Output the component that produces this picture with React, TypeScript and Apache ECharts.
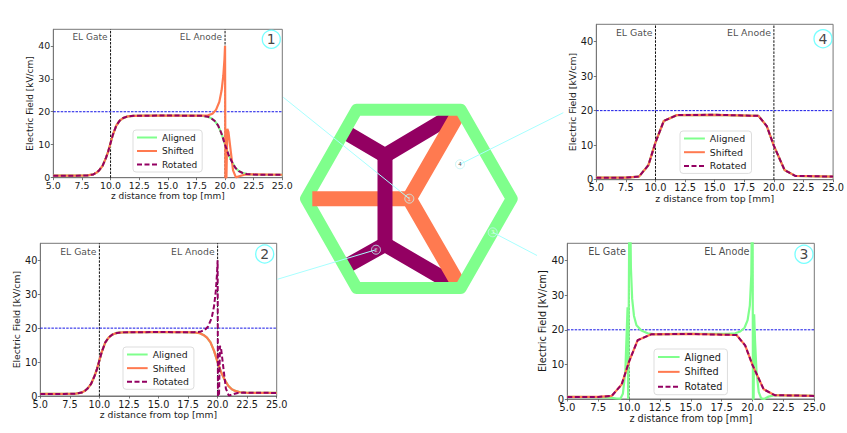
import React, { useEffect, useRef } from 'react';
import * as echarts from 'echarts';

const GREEN = '#7fff8c';
const ORANGE = '#ff7a50';
const PURPLE = '#930062';
const CYAN = '#a8ffff';
const BLUE = '#1414e6';
const FONT = '"DejaVu Sans"';
const TEXT = '#1a1a1a';

const seriesNames = ['Aligned', 'Shifted', 'Rotated'];
const xTicks = [5, 7.5, 10, 12.5, 15, 17.5, 20, 22.5, 25];
const yTicks = [0, 10, 20, 30, 40];

// reference lines shared by all panels
const gateLine = [[10, 0], [10, 45]];
const anodeLine = [[20, 0], [20, 45]];
const thresholdLine = [[5, 20], [25, 20]];

// smooth field profile (plots 1 and 2)
const smoothProfile = [
  [5, 0.6], [6, 0.6], [7, 0.6], [8, 0.7], [8.5, 1], [8.8, 1.6], [9, 2.2], [9.3, 3.6], [9.6, 6], [9.8, 8], [10, 10.5],
  [10.2, 13], [10.5, 15.8], [10.8, 17.3], [11.1, 18.1], [11.5, 18.6], [12, 18.75], [13, 18.8], [15, 18.85], [17, 18.8],
  [18, 18.75], [18.5, 18.5], [18.8, 18], [19.1, 17.2], [19.4, 15.8], [19.7, 13.3], [20, 10], [20.3, 7], [20.6, 4.8],
  [20.9, 3], [21.2, 2], [21.5, 1.5], [21.9, 1.1], [22.5, 0.95], [23, 0.9], [25, 0.9],
];

// coarse profile with visible mesh knots (plots 3 and 4)
const coarseProfile = [
  [5, 0.6], [7.5, 0.6], [8.6, 0.9], [9.4, 4.2], [10, 10.8], [10.7, 17], [11.8, 18.7], [15, 18.8], [18.7, 18.5],
  [19.4, 15.5], [20, 9.8], [20.9, 2.8], [21.8, 1.1], [25, 0.9],
];

// profile with a spike at the anode only (Shifted in plot 1, Rotated in plot 2)
const anodeSpikeProfile = [
  [5, 0.6], [6, 0.6], [7, 0.6], [8, 0.7], [8.5, 1], [8.8, 1.6], [9, 2.2], [9.3, 3.6], [9.6, 6], [9.8, 8], [10, 10.5],
  [10.2, 13], [10.5, 15.8], [10.8, 17.3], [11.1, 18.1], [11.5, 18.6], [12, 18.75], [13, 18.8], [15, 18.85], [17, 18.8],
  [18, 18.8], [18.5, 18.9], [18.9, 19.4], [19.2, 20.5], [19.5, 23], [19.7, 26.5], [19.85, 31], [19.95, 36], [20, 40],
  [20.03, 0], [20.12, 0], [20.2, 14.8], [20.3, 13.8], [20.5, 8], [20.7, 2.2], [20.95, 0.1], [21.3, 0.5], [21.7, 0.9],
  [22.2, 1], [25, 0.9],
];

// profile with spikes at both meshes (Aligned in plot 3)
const bothSpikesProfile = [
  [5, 0.6], [7.5, 0.55], [8.5, 0.4], [9, 0.15], [9.3, 0.1], [9.5, 1.5], [9.7, 8], [9.88, 26.5], [9.93, 0], [9.98, 0],
  [10.05, 70], [10.15, 38], [10.25, 29], [10.4, 24], [10.6, 21.3], [11, 19.8], [11.5, 19], [12, 18.75], [15, 18.8],
  [18, 18.8], [18.6, 19], [19, 19.5], [19.35, 20.6], [19.6, 22.8], [19.78, 27], [19.9, 36], [20, 70], [20.03, 0],
  [20.09, 0], [20.13, 24.5], [20.2, 17], [20.32, 8], [20.5, 2], [20.7, 0.2], [20.95, 0], [21.3, 0.7], [21.8, 1.1],
  [25, 0.9],
];

const plotCurves = [
  [smoothProfile, anodeSpikeProfile, smoothProfile],
  [smoothProfile, smoothProfile, anodeSpikeProfile],
  [bothSpikesProfile, coarseProfile, coarseProfile],
  [coarseProfile, coarseProfile, coarseProfile],
];

// page-pixel geometry of the hexagon diagram
const hexagon = [[306, 198.7], [356.7, 109.7], [460.7, 109.7], [511.7, 198.7], [460.7, 288], [356.7, 288], [306, 198.7]];
const purpleTop = [[345, 132], [385, 155.5], [458, 112]];
const purpleBottom = [[343, 268], [385, 244.5], [458, 287]];
const purpleStem = [[385, 150], [385, 250]];
const orangeArms = [[459.3, 112], [409.3, 198.7], [459.3, 285.4]];
const orangeBar = [[312.3, 198.7], [405, 198.7]];
const leaders = [
  [[283.3, 97.3], [409.3, 198.7]],
  [[277.3, 279.3], [376, 249.7]],
  [[492.7, 232.3], [537, 255.5]],
  [[460, 164.3], [563.3, 112.7]],
];
const smallMarks = [
  { value: [409.3, 198.7], name: '1', ink: '#e8e8e8' },
  { value: [376, 249.7], name: '2', ink: '#e8e8e8' },
  { value: [492.7, 232.3], name: '3', ink: '#f4fff4' },
  { value: [460, 164.3], name: '4', ink: '#333' },
];
const bigMarks = [
  { value: [271.3, 39.3], name: '1' },
  { value: [264.7, 254], name: '2' },
  { value: [804, 254.3], name: '3' },
  { value: [823, 38.7], name: '4' },
];

const grids = [
  { left: 53.3, top: 29.3, width: 229, height: 148.4 },
  { left: 40.3, top: 243.3, width: 236.4, height: 152.7 },
  { left: 567.3, top: 243.3, width: 247, height: 155.7 },
  { left: 596.3, top: 24.3, width: 239, height: 155.4 },
];
const legendBoxes = [
  { left: 133, top: 130 },
  { left: 123, top: 347 },
  { left: 654, top: 349 },
  { left: 680, top: 131 },
];

const diagramLine = (data: number[][], color: string, width: number, join = 'miter', cap = 'butt') => ({
  type: 'line',
  xAxisIndex: 4,
  yAxisIndex: 4,
  data,
  symbol: 'none',
  clip: false,
  silent: true,
  lineStyle: { color, width, join, cap },
});

// the four panels are the same figure pasted at slightly different sizes
const scaleOf = (i: number) => grids[i].width / 229;

const buildOption = () => {
  const series: any[] = [];

  plotCurves.forEach((curves, i) => {
    const styles = [
      { color: GREEN, width: 2.2, type: 'solid' },
      { color: ORANGE, width: 2.2, type: 'solid' },
      { color: PURPLE, width: 2, type: [5, 2.5] },
    ];
    [
      { data: gateLine, color: '#111' },
      { data: anodeLine, color: '#111' },
      { data: thresholdLine, color: BLUE },
    ].forEach((ref) => {
      series.push({
        type: 'line',
        xAxisIndex: i,
        yAxisIndex: i,
        data: ref.data,
        symbol: 'none',
        silent: true,
        z: 1,
        lineStyle: { color: ref.color, width: 1, type: [2.5, 1.2] },
      });
    });
    curves.forEach((curve, j) => {
      series.push({
        type: 'line',
        name: seriesNames[j],
        xAxisIndex: i,
        yAxisIndex: i,
        data: curve,
        symbol: 'none',
        lineStyle: styles[j],
        itemStyle: { color: styles[j].color },
      });
    });
    series.push({
      type: 'scatter',
      xAxisIndex: i,
      yAxisIndex: i,
      silent: true,
      symbolSize: 0,
      data: [
        { value: [10, 42.7], name: 'EL Gate' },
        { value: [20, 42.7], name: 'EL Anode' },
      ],
      label: {
        show: true,
        position: 'left',
        distance: 3,
        formatter: '{b}',
        color: TEXT,
        fontFamily: FONT,
        fontSize: 9 * scaleOf(i),
      },
    });
  });

  series.push(
    diagramLine(purpleTop, PURPLE, 15),
    diagramLine(purpleBottom, PURPLE, 15),
    diagramLine(orangeArms, ORANGE, 15),
    diagramLine(hexagon, GREEN, 12, 'round', 'round'),
    diagramLine(orangeBar, ORANGE, 15),
    diagramLine(purpleStem, PURPLE, 15),
  );
  leaders.forEach((l) => series.push(diagramLine(l, CYAN, 1)));

  series.push({
    type: 'scatter',
    xAxisIndex: 4,
    yAxisIndex: 4,
    silent: true,
    clip: false,
    symbolSize: 18,
    data: bigMarks,
    itemStyle: { color: '#fff', borderColor: '#55ffff', borderWidth: 1.3 },
    label: { show: true, position: 'inside', formatter: '{b}', color: '#111', fontFamily: FONT, fontSize: 14 },
  });
  series.push({
    type: 'scatter',
    xAxisIndex: 4,
    yAxisIndex: 4,
    silent: true,
    clip: false,
    symbolSize: 9,
    z: 6,
    data: smallMarks.map((m) => ({
      value: m.value,
      name: m.name,
      label: { color: m.ink },
    })),
    itemStyle: { color: 'rgba(255,255,255,0.08)', borderColor: '#c0f4f4', borderWidth: 1 },
    label: { show: true, position: 'inside', formatter: '{b}', fontFamily: FONT, fontSize: 5.5 },
  });

  const axisBase = (i: number) => ({
    type: 'value' as const,
    gridIndex: i,
    splitLine: { show: false },
    nameLocation: 'middle' as const,
    nameTextStyle: { color: TEXT, fontFamily: FONT, fontSize: 8.95 * scaleOf(i) },
    axisLine: { show: true, onZero: false, lineStyle: { color: '#777', width: 1 } },
  });
  const ticks = (values: number[]) => ({
    show: true,
    length: 2.5,
    customValues: values,
    lineStyle: { color: '#555', width: 0.8 },
  });

  return {
    animation: false,
    backgroundColor: '#fff',
    grid: [
      ...grids.map((g) => ({ ...g, show: true, borderColor: '#777', borderWidth: 1, backgroundColor: 'transparent' })),
      { left: 0, top: 0, width: 847, height: 433, show: false },
    ],
    xAxis: [
      ...grids.map((_, i) => ({
        ...axisBase(i),
        min: 5,
        max: 25,
        name: 'z distance from top [mm]',
        nameGap: 14,
        axisTick: ticks(xTicks),
        axisLabel: {
          customValues: xTicks,
          formatter: (v: number) => v.toFixed(1),
          color: TEXT,
          fontFamily: FONT,
          fontSize: 9.4 * scaleOf(i),
          margin: 3,
        },
      })),
      { type: 'value', gridIndex: 4, min: 0, max: 847, show: false },
    ],
    yAxis: [
      ...grids.map((_, i) => ({
        ...axisBase(i),
        min: 0,
        max: 45,
        name: 'Electric Field [kV/cm]',
        nameGap: 16,
        axisTick: ticks(yTicks),
        axisLabel: { customValues: yTicks, color: TEXT, fontFamily: FONT, fontSize: 9.4 * scaleOf(i), margin: 3 },
      })),
      { type: 'value', gridIndex: 4, min: 0, max: 433, inverse: true, show: false },
    ],
    legend: legendBoxes.map((b, i) => ({
      ...b,
      orient: 'vertical',
      data: seriesNames,
      selectedMode: false,
      itemWidth: 20 * scaleOf(i),
      itemHeight: 8,
      itemGap: 4.5 * scaleOf(i),
      padding: [3, 5, 3, 3],
      backgroundColor: 'rgba(255,255,255,0.85)',
      borderColor: '#ddd',
      borderWidth: 1,
      borderRadius: 3,
      itemStyle: { opacity: 0 },
      textStyle: { color: TEXT, fontFamily: FONT, fontSize: 9 * scaleOf(i) },
    })),
    series,
  };
};

const App: React.FC = () => {
  const chartRef = useRef<HTMLDivElement>(null);

  useEffect(() => {
    if (!chartRef.current) return;
    const myChart = echarts.init(chartRef.current, undefined, { renderer: 'svg' });
    myChart.setOption(buildOption() as any);
    return () => {
      myChart.dispose();
    };
  }, []);

  return <div ref={chartRef} style={{ position: 'fixed', left: 0, top: 0, width: 847, height: 433 }} />;
};

export default App;
